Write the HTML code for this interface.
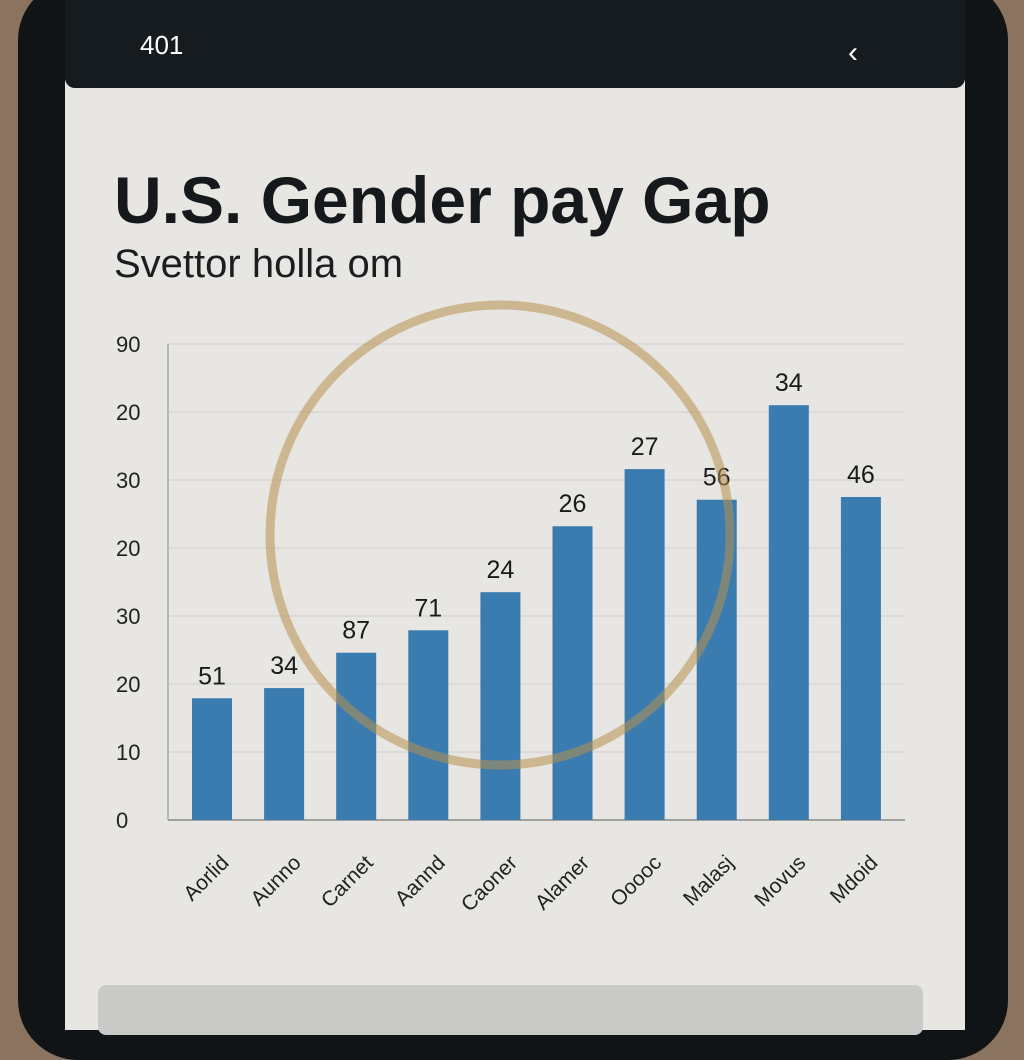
<!DOCTYPE html>
<html><head><meta charset="utf-8"><style>
html,body{margin:0;padding:0;width:1024px;height:1024px;overflow:hidden;background:#8a7460;}
#phone{position:absolute;left:18px;top:-20px;width:990px;height:1080px;background:#111417;border-radius:60px;}
#screen{position:absolute;left:65px;top:80px;width:900px;height:950px;background:#e7e6e2;}
#status{position:absolute;left:65px;top:0;width:900px;height:88px;background:#161b20;border-radius:0 0 10px 10px;}
.t{position:absolute;font-family:"Liberation Sans",sans-serif;}
</style></head><body>
<div id="phone"></div>
<div id="screen"></div>
<div id="status"></div>
<div class="t" style="left:140px;top:30px;color:#fff;font-size:26px;">401</div>
<div class="t" style="left:848px;top:36px;color:#fff;font-size:30px;">‹</div>
<div class="t" style="left:114px;top:162px;font-size:66px;font-weight:bold;color:#15191c;letter-spacing:0px;">U.S. Gender pay Gap</div>
<div class="t" style="left:114px;top:242px;font-size:40px;color:#1b1e20;">Svettor holla om</div>
<div style="position:absolute;left:98px;top:985px;width:825px;height:50px;background:#c9c9c7;border-radius:8px;"></div>
<svg id="chart" width="1024" height="1024" style="position:absolute;left:0;top:0"></svg>
<script>
const categories=["Aorlid","Aunno","Carnet","Aannd","Caoner","Alamer","Ooooc","Malasj","Movus","Mdoid"];
const values=[17.9,19.4,24.6,27.9,33.5,43.2,51.6,47.1,61,47.5];
const valueLabels=["51","34","87","71","24","26","27","56","34","46"];
const tickValues=[0,10,20,30,40,50,60,70];
const tickLabels=["0","10","20","30","20","30","20","90"];
const svg=document.getElementById('chart');
const NS="http://www.w3.org/2000/svg";
const x0=168,x1=905,y0=820,pxPerUnit=6.8;
const y=v=>y0-v*pxPerUnit;
const x=i=>212+i*72.1;
function mk(tag,attrs,txt){const e=document.createElementNS(NS,tag);for(const k in attrs)e.setAttribute(k,attrs[k]);if(txt!==undefined)e.textContent=txt;svg.appendChild(e);return e;}
tickValues.forEach((v,i)=>{
  const g=mk('line',{x1:x0,x2:x1,y1:y(v),y2:y(v),stroke:v===0?'#888':'#cfcfcf','stroke-width':v===0?1.5:1});
  
  
  const t=mk('text',{x:116,y:y(v)+8,'font-size':22,'font-family':'Liberation Sans, sans-serif',fill:'#222'},tickLabels[i]);
  
  
});
const ax=mk('line',{x1:x0,x2:x0,y1:y(70),y2:y0,stroke:'#999','stroke-width':1.2});


values.forEach((v,i)=>{
  const r=mk('rect',{x:x(i)-20,y:y(v),width:40,height:y0-y(v),fill:'#3a7bb0'});
  
  
  const t=mk('text',{x:x(i),y:y(v)-14,'font-size':25,'text-anchor':'middle','font-family':'Liberation Sans, sans-serif',fill:'#1a1a1a'},valueLabels[i]);
  
  
  const c=mk('text',{x:x(i)+18,y:y0+44,'font-size':21,'text-anchor':'end','font-family':'Liberation Sans, sans-serif',fill:'#222',transform:`rotate(-45 ${x(i)+18} ${y0+44})`},categories[i]);
  
  
});
const ring=mk('circle',{cx:500,cy:535,r:230,fill:'none',stroke:'#b8904f','stroke-width':9,opacity:0.55});


</script>
</body></html>
